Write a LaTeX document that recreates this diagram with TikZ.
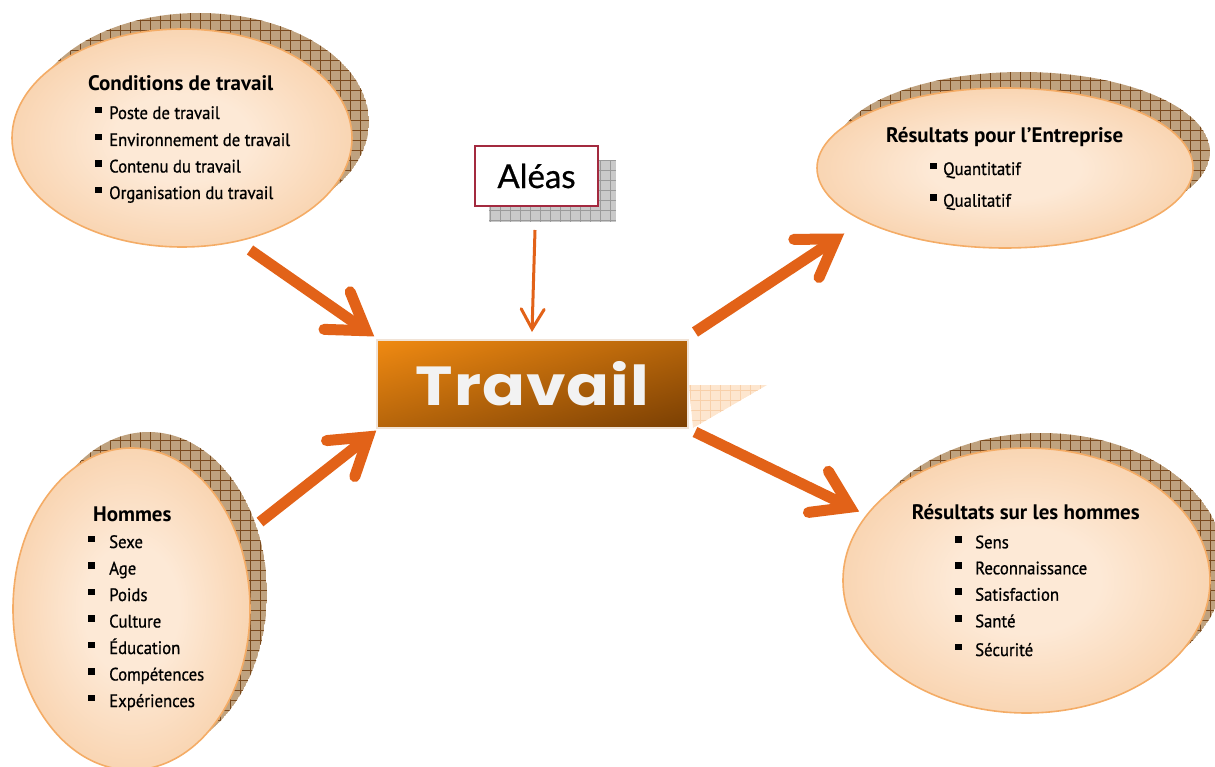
\documentclass[tikz,border=0pt]{standalone}
\usepackage{fontspec}
\setmainfont{PT Sans}
\newfontfamily\titf{PT Sans}[FakeStretch=1.0]
\newfontfamily\itmf{PT Sans}[FakeStretch=0.93, FakeBold=0.8]
\newfontfamily\travf{Poppins}[LetterSpace=2, FakeStretch=1.15]
\newfontfamily\aleasf{Lato}[FakeBold=0.6]
\usetikzlibrary{calc,shapes.geometric}
\definecolor{arr}{HTML}{E26218}
\definecolor{ellb}{HTML}{F4AC66}
\definecolor{pin}{HTML}{FDE9D6}
\definecolor{pout}{HTML}{F4BC86}
\definecolor{shtan}{HTML}{BFA27F}
\definecolor{shline}{HTML}{7A4A1E}
\definecolor{travA}{HTML}{F08A12}
\definecolor{travM}{HTML}{C06606}
\definecolor{travB}{HTML}{7A3F03}
\definecolor{travbd}{HTML}{F1E3D6}
\definecolor{alb}{HTML}{A32A3F}
\definecolor{gfill}{HTML}{C9C9C9}
\definecolor{gline}{HTML}{9A9A9A}
\definecolor{trif}{HTML}{FDE6CF}
\definecolor{tril}{HTML}{F8D0AA}
\pgfdeclareradialshading{peach}{\pgfpoint{0bp}{0bp}}{color(0bp)=(pin); color(10bp)=(pin); color(44bp)=(pout); color(100bp)=(pout)}
\newcommand\brsh[3]{%
  \begin{scope}
    \clip (#1) ellipse [x radius=#2pt, y radius=#3pt];
    \fill[shtan] (#1) ellipse [x radius=#2pt, y radius=#3pt];
    \draw[shline, line width=0.6pt, step=10pt] ($(#1)-(#2,#3)$) grid ($(#1)+(#2,#3)$);
  \end{scope}}
\newcommand\bul[1]{\makebox[#1pt][l]{\rule[5.8pt]{6.5pt}{6.5pt}}}
\tikzset{
  ell/.style={ellipse, draw=ellb, line width=1.6pt, shade, shading=peach, inner sep=0pt},
  ttl/.style={anchor=base west, inner sep=0pt, font=\titf\bfseries\fontsize{21}{22}\selectfont},
  itm/.style={anchor=base west, inner sep=0pt, font=\itmf\fontsize{18}{19}\selectfont},
  shaft/.style={draw=arr, line width=11pt},
  head/.style={draw=arr, line width=11pt, line cap=round, line join=miter},
  thin shaft/.style={draw=arr, line width=3pt},
  thin head/.style={draw=arr, line width=3pt, line cap=round, line join=miter},
  travbox/.style={draw=travbd, line width=1.5pt,
    minimum width=311pt, minimum height=88pt, inner sep=0pt,
    text=white!95!black, font=\travf\bfseries\fontsize{55}{55}\selectfont},
  aleasbox/.style={draw=alb, line width=2pt, fill=white, minimum width=123pt, minimum height=60pt,
    inner sep=0pt, font=\aleasf\fontsize{33}{33}\selectfont}
}
\begin{document}
\begin{tikzpicture}[x=1pt,y=-1pt]
\useasboundingbox (0,0) rectangle (1215,767);
% shadows
\brsh{199,122}{170}{109}
\brsh{1022,152}{188}{80}
\brsh{148.5,593}{118.5}{161}
\brsh{1041.5,565.5}{183.5}{132.5}
% ellipses
\node[ell, minimum width=340pt, minimum height=218pt] (cond) at (182,138) {};
\node[ell, minimum width=376pt, minimum height=160pt] (entr) at (1005,168) {};
\node[ell, minimum width=237pt, minimum height=322pt] (hom) at (131.5,609) {};
\node[ell, minimum width=367pt, minimum height=265pt] (resh) at (1026.5,580.5) {};
% texts: Conditions
\node[ttl] (condt) at (88,91) {Conditions de travail};
\foreach \y/\t [count=\i] in {119/Poste de travail, 146/Environnement de travail, 172.5/Contenu du travail, 199/Organisation du travail}
  \node[itm] (cond\i) at (95,\y) {\bul{14}\t};
% Entreprise
\node[ttl] (entrt) at (886,142.3) {Résultats pour l’Entreprise};
\foreach \y/\t [count=\i] in {175/Quantitatif, 206.7/Qualitatif}
  \node[itm] (entr\i) at (930,\y) {\bul{13}\t};
% Hommes
\node[ttl] (homt) at (93,521.7) {Hommes};
\foreach \y/\t [count=\i] in {548/Sexe, 574.5/Age, 601/Poids, 627.5/Culture, 654/Éducation, 680.5/Compétences, 707/Expériences}
  \node[itm] (hom\i) at (88,\y) {\bul{21}\t};
% Resultats hommes
\node[ttl] (resht) at (911.7,519) {Résultats sur les hommes};
\foreach \y/\t [count=\i] in {548.3/Sens, 574.3/Reconnaissance, 600.7/Satisfaction, 627.3/Santé, 656/Sécurité}
  \node[itm] (resh\i) at (955,\y) {\bul{20}\t};
% Travail shadow triangle
\begin{scope}
  \clip (689,385) -- (767,385) -- (693,428) -- cycle;
  \fill[trif] (689,385) -- (767,385) -- (693,428) -- cycle;
  \draw[tril, line width=0.6pt, step=10pt] (680,380) grid (770,430);
\end{scope}
% Travail gradient fill (diagonal)
\begin{scope}
  \clip (377,340) rectangle (688,428);
  \shade[transform canvas={rotate around={16:(532.5,384)}}, top color=travA, middle color=travM, bottom color=travB]
    (332.5,299) rectangle (732.5,469);
\end{scope}
\node[travbox] (trav) at (532.5,384) {Travail};
% Aleas shadow and box
\fill[gfill] (489,160) rectangle (616,222);
\draw[gline, line width=0.6pt, step=10pt] (489,160) grid (616,222);
\node[aleasbox] (aleas) at (536.5,176) {Aléas};
% arrow coordinates
\coordinate (s1) at (250,250); \coordinate (v1) at (375,337);
\coordinate (s2) at (260,522); \coordinate (v2) at (377,430);
\coordinate (s3) at (695,332); \coordinate (v3) at (845,233);
\coordinate (s4) at (695,432); \coordinate (v4) at (860,512);
\foreach \k in {1,2,3,4}{
  \coordinate (t\k) at ($(v\k)!11pt!(s\k)$);
  \draw[shaft] (s\k) -- (t\k);
  \draw[head] ($(t\k)!42pt!33:(s\k)$) -- (t\k) -- ($(t\k)!42pt!-33:(s\k)$);
}
% Aleas arrow
\coordinate (as) at (535,230); \coordinate (av) at (532,332);
\coordinate (at) at ($(av)!3pt!(as)$);
\draw[thin shaft] (as) -- (at);
\draw[thin head] ($(at)!23pt!30:(as)$) -- (at) -- ($(at)!23pt!-30:(as)$);
\end{tikzpicture}
\end{document}
